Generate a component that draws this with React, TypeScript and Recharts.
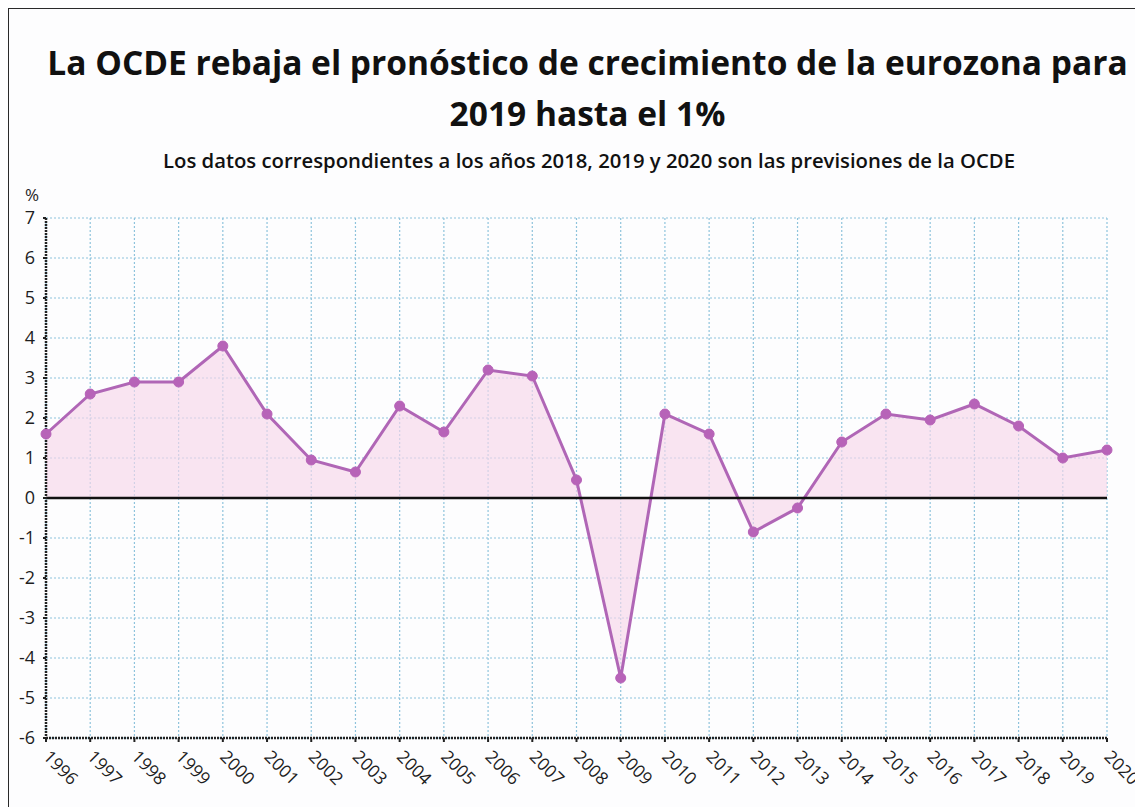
import React from "react";
import { AreaChart, Area, XAxis, YAxis, CartesianGrid, ReferenceLine } from "recharts";

const years = [
  "1996", "1997", "1998", "1999", "2000", "2001", "2002", "2003", "2004", "2005",
  "2006", "2007", "2008", "2009", "2010", "2011", "2012", "2013", "2014", "2015",
  "2016", "2017", "2018", "2019", "2020",
];
const growth = [
  1.6, 2.6, 2.9, 2.9, 3.8, 2.1, 0.95, 0.65, 2.3, 1.65,
  3.2, 3.05, 0.45, -4.5, 2.1, 1.6, -0.85, -0.25, 1.4, 2.1,
  1.95, 2.35, 1.8, 1.0, 1.2,
];
const yTicks = [-6, -5, -4, -3, -2, -1, 0, 1, 2, 3, 4, 5, 6, 7];

const title1 = "La OCDE rebaja el pronóstico de crecimiento de la eurozona para";
const title2 = "2019 hasta el 1%";
const subtitle = "Los datos correspondientes a los años 2018, 2019 y 2020 son las previsiones de la OCDE";
const unitLabel = "%";

const data = years.map((y, i) => ({ year: y, value: growth[i] }));

const FONT = "'Open Sans', 'Noto Sans', sans-serif";

const XTick = (props: any) => {
  const { x, y, payload } = props;
  return (
    <g transform={`translate(${x + 5},${y + 5}) rotate(45)`}>
      <text
        x={0}
        y={12.5}
        textAnchor="start"
        fontFamily={FONT}
        fontSize={17.5}
        fill="#1e1e1e"
      >
        {payload.value}
      </text>
    </g>
  );
};

export default function App() {
  return (
    <div style={{ position: "fixed", left: 0, top: 0, width: 1135, height: 807, overflow: "hidden", background: "#ffffff" }}>
      <div
        style={{
          position: "absolute",
          left: 8,
          top: 8,
          width: 1180,
          height: 900,
          border: "1px solid #2a2a2a",
          background: "#fdfdfe",
        }}
      >
        <div
          style={{
            position: "absolute",
            left: 0,
            top: 27.5,
            width: 1157,
            textAlign: "center",
            fontFamily: FONT,
            fontWeight: 700,
            fontSize: 33.5,
            lineHeight: "51px",
            color: "#111",
            whiteSpace: "nowrap",
          }}
        >
          <div>{title1}</div>
          <div>{title2}</div>
        </div>
        <div
          style={{
            position: "absolute",
            left: 0,
            top: 139,
            width: 1160,
            textAlign: "center",
            fontFamily: FONT,
            fontWeight: 600,
            fontSize: 20.3,
            lineHeight: "24px",
            color: "#111",
            whiteSpace: "nowrap",
          }}
        >
          {subtitle}
        </div>
        <div
          style={{
            position: "absolute",
            left: 16,
            top: 177,
            fontFamily: FONT,
            fontSize: 17,
            lineHeight: "17px",
            color: "#1e1e1e",
          }}
        >
          {unitLabel}
        </div>
        <div style={{ position: "absolute", left: 0, top: 0 }}>
          <AreaChart
            width={1160}
            height={790}
            data={data}
            margin={{ top: 209, right: 62, bottom: 0, left: 7 }}
          >
            <CartesianGrid stroke="#8ec3dc" strokeDasharray="2 2" strokeWidth={1.2} />
            <XAxis
              dataKey="year"
              scale="point"
              padding={{ left: 0, right: 0 }}
              height={61}
              interval={0}
              tick={<XTick />}
              tickSize={4}
              tickLine={{ stroke: "#222", strokeWidth: 2 }}
              axisLine={{ stroke: "#222", strokeWidth: 2.5, strokeDasharray: "2 1" }}
            />
            <YAxis
              type="number"
              domain={[-6, 7]}
              ticks={yTicks}
              interval={0}
              width={30}
              tickSize={3}
              tickMargin={8}
              tick={{ fontFamily: FONT, fontSize: 18, fill: "#1e1e1e" }}
              tickLine={{ stroke: "#222", strokeWidth: 2 }}
              axisLine={{ stroke: "#222", strokeWidth: 2.5, strokeDasharray: "2 1" }}
            />
            <Area
              type="linear"
              dataKey="value"
              baseValue={0}
              stroke="#b066b6"
              strokeWidth={3}
              fill="#f7d7ea"
              fillOpacity={0.65}
              dot={{ r: 5, fill: "#b763b8", stroke: "#b763b8", strokeWidth: 1, fillOpacity: 1 }}
              activeDot={false}
              isAnimationActive={false}
            />
            <ReferenceLine y={0} stroke="#111" strokeWidth={2.5} />
          </AreaChart>
        </div>
      </div>
    </div>
  );
}
